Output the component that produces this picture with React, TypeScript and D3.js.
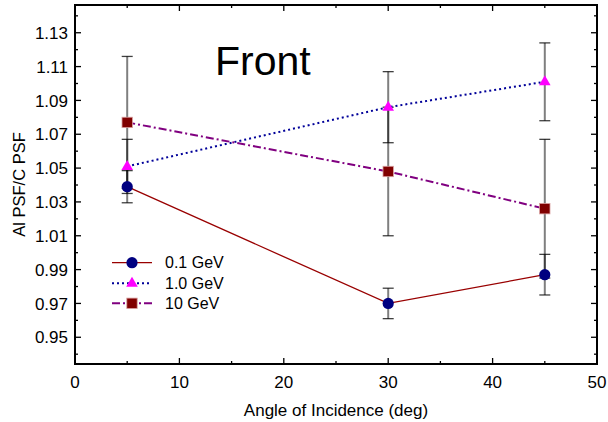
import React, { useEffect, useRef } from 'react';
import * as d3 from 'd3';

// Angle of incidence (deg)
const angles = [5, 30, 45];

// Al PSF / C PSF ratio and error per energy
const psf01 = [1.039, 0.970, 0.987];
const err01 = [0.0095, 0.009, 0.012];
const psf1 = [1.051, 1.086, 1.101];
const err1 = [0.016, 0.021, 0.023];
const psf10 = [1.077, 1.048, 1.026];
const err10 = [0.039, 0.038, 0.041];

const seriesNames = ['0.1 GeV', '1.0 GeV', '10 GeV'];

const xMajor = [0, 10, 20, 30, 40, 50];
const xMinor = [5, 15, 25, 35, 45];
const yMajor = [0.95, 0.97, 0.99, 1.01, 1.03, 1.05, 1.07, 1.09, 1.11, 1.13];
const yMinor = [0.94, 0.96, 0.98, 1.0, 1.02, 1.04, 1.06, 1.08, 1.1, 1.12, 1.14];

const FONT = 'Liberation Sans, Arial, sans-serif';

export default function App() {
  const svgRef = useRef<SVGSVGElement>(null);

  useEffect(() => {
    const width = 608;
    const height = 422;
    const svg = d3.select(svgRef.current).attr('width', width).attr('height', height);
    svg.selectAll('*').remove();

    const left = 75, right = 597, top = 5, bottom = 364;
    const x = d3.scaleLinear().domain([0, 50]).range([left, right]);
    const y = d3.scaleLinear().domain([0.9342, 1.1464]).range([bottom, top]);

    const series = [
      { name: seriesNames[0], v: psf01, e: err01, line: '#990000', dash: null, lw: 1.3, marker: 'circle', fill: '#000080' },
      { name: seriesNames[1], v: psf1, e: err1, line: '#000099', dash: '2 3', lw: 2, marker: 'triangle', fill: '#ff00ff' },
      { name: seriesNames[2], v: psf10, e: err10, line: '#800080', dash: '8 3 2 3', lw: 2, marker: 'square', fill: '#800000' },
    ];

    const drawMarker = (g: any, type: string, cx: number, cy: number, fill: string) => {
      if (type === 'circle') {
        g.append('circle').attr('cx', cx).attr('cy', cy).attr('r', 5.6).attr('fill', fill);
      } else if (type === 'triangle') {
        g.append('path')
          .attr('d', `M${cx},${cy - 6.5} L${cx + 5.8},${cy + 3.5} L${cx - 5.8},${cy + 3.5} Z`)
          .attr('fill', fill);
      } else {
        g.append('rect').attr('x', cx - 5.2).attr('y', cy - 5.2).attr('width', 10.4).attr('height', 10.4)
          .attr('fill', fill).attr('stroke', '#d9a0a0').attr('stroke-width', 0.8);
      }
    };

    // Error bars (semi-transparent, overlaps go darker)
    const eb = svg.append('g');
    series.forEach(s => {
      angles.forEach((a, i) => {
        const cx = x(a), y1 = y(s.v[i] + s.e[i]), y2 = y(s.v[i] - s.e[i]);
        eb.append('line').attr('x1', cx).attr('x2', cx).attr('y1', y1).attr('y2', y2)
          .attr('stroke', '#000').attr('stroke-opacity', 0.5).attr('stroke-width', 2);
        [y1, y2].forEach(yy => eb.append('line').attr('x1', cx - 5.5).attr('x2', cx + 5.5).attr('y1', yy).attr('y2', yy)
          .attr('stroke', '#000').attr('stroke-opacity', 0.75).attr('stroke-width', 1.3));
      });
    });

    // Lines
    series.forEach(s => {
      const line = d3.line<number>().x((_, i) => x(angles[i])).y(d => y(d));
      svg.append('path').datum(s.v).attr('d', line).attr('fill', 'none')
        .attr('stroke', s.line).attr('stroke-width', s.lw)
        .attr('stroke-dasharray', s.dash || null);
    });

    // Markers
    const mk = svg.append('g');
    series.forEach(s => angles.forEach((a, i) => drawMarker(mk, s.marker, x(a), y(s.v[i]), s.fill)));

    // Frame and ticks
    const ax = svg.append('g').attr('stroke', '#000');
    ax.append('rect').attr('x', left).attr('y', top).attr('width', right - left).attr('height', bottom - top)
      .attr('fill', 'none').attr('stroke-width', 2);
    const tick = (vals: number[], len: number) => {
      vals.forEach(v => {
        const px = x(v);
        ax.append('line').attr('x1', px).attr('x2', px).attr('y1', bottom).attr('y2', bottom - len).attr('stroke-width', 1.3);
        ax.append('line').attr('x1', px).attr('x2', px).attr('y1', top).attr('y2', top + len).attr('stroke-width', 1.3);
      });
    };
    tick(xMajor, 6);
    tick(xMinor, 3);
    const ytick = (vals: number[], len: number) => {
      vals.forEach(v => {
        const py = y(v);
        ax.append('line').attr('x1', left).attr('x2', left + len).attr('y1', py).attr('y2', py).attr('stroke-width', 1.3);
        ax.append('line').attr('x1', right).attr('x2', right - len).attr('y1', py).attr('y2', py).attr('stroke-width', 1.3);
      });
    };
    ytick(yMajor, 6);
    ytick(yMinor, 3);

    // Tick labels
    const tl = svg.append('g').attr('font-family', FONT).attr('font-size', 17).attr('fill', '#000');
    xMajor.forEach(v => tl.append('text').attr('x', x(v)).attr('y', 388).attr('text-anchor', 'middle').text(d3.format('d')(v)));
    yMajor.forEach(v => tl.append('text').attr('x', 68).attr('y', y(v)).attr('dy', '0.36em').attr('text-anchor', 'end').text(v.toFixed(2)));

    // Axis titles
    svg.append('text').attr('x', (left + right) / 2).attr('y', 416).attr('text-anchor', 'middle')
      .attr('font-family', FONT).attr('font-size', 17).text('Angle of Incidence (deg)');
    svg.append('text').attr('transform', `translate(25,${(top + bottom) / 2}) rotate(-90)`).attr('text-anchor', 'middle')
      .attr('font-family', FONT).attr('font-size', 16.5).text('Al PSF/C PSF');

    // Panel title
    svg.append('text').attr('x', 215).attr('y', 75).attr('font-family', FONT).attr('font-size', 41).text('Front');

    // Legend
    const lg = svg.append('g');
    const rows = [262.7, 283.3, 303.3];
    series.forEach((s, i) => {
      lg.append('line').attr('x1', 112).attr('x2', 152).attr('y1', rows[i]).attr('y2', rows[i])
        .attr('stroke', s.line).attr('stroke-width', s.lw).attr('stroke-dasharray', s.dash || null);
      drawMarker(lg, s.marker, 132, rows[i], s.fill);
      lg.append('text').attr('x', 165).attr('y', rows[i]).attr('dy', '0.36em')
        .attr('font-family', FONT).attr('font-size', 16).text(s.name);
    });
  }, []);

  return (
    <div style={{ position: 'absolute', left: 0, top: 0 }}>
      <svg ref={svgRef} style={{ display: 'block' }} />
    </div>
  );
}
